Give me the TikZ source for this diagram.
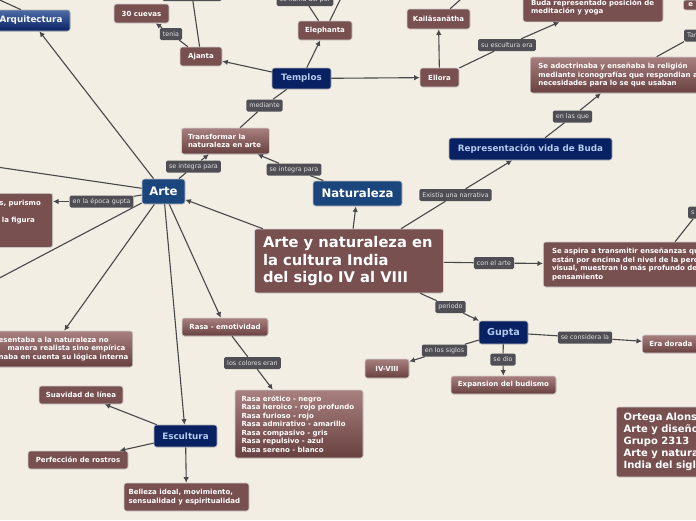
\documentclass[tikz,border=0pt]{standalone}
\usepackage{fontspec}
\setmainfont{DejaVu Sans}
\usetikzlibrary{arrows.meta}
\definecolor{fondo}{RGB}{243,238,227}
\definecolor{cafe}{RGB}{120,80,80}
\definecolor{cafeclaro}{RGB}{168,128,128}
\definecolor{cafeoscuro}{RGB}{104,64,64}
\definecolor{marino}{RGB}{8,33,98}
\definecolor{azul}{RGB}{27,70,125}
\definecolor{azulclaro}{RGB}{78,108,168}
\definecolor{celeste}{RGB}{178,202,236}
\definecolor{etiqueta}{RGB}{78,78,84}
\definecolor{linea}{RGB}{72,72,74}
\tikzset{
  caja/.style={fill=cafe, draw=white!82!black, line width=0.6pt, rounded corners=2.5pt, text=white,
    font=\fontsize{7}{8.5}\selectfont\bfseries, inner xsep=5pt, inner ysep=3pt},
  cajagrad/.style={caja, top color=cafeclaro, bottom color=cafeoscuro},
  tema/.style={fill=marino, draw=white!70!black, line width=0.6pt, rounded corners=2.5pt, text=celeste,
    font=\fontsize{8.8}{10}\selectfont\bfseries},
  eje/.style={fill=azul, draw=white!75!black, line width=0.8pt, rounded corners=2.5pt, text=white,
    font=\fontsize{11.7}{13}\selectfont\bfseries},
  etq/.style={fill=etiqueta, rounded corners=1.5pt, text=white!88!black, font=\fontsize{6.4}{7.5}\selectfont,
    inner xsep=3pt, inner ysep=0pt, minimum height=12pt},
  con/.style={draw=linea, line width=1.1pt},
  flecha/.style={con, -{Latex[length=5.5pt,width=5.5pt]}}
}
\begin{document}
\begin{tikzpicture}[x=1pt,y=-1pt]
\fill[fondo] (0,0) rectangle (696,520);
\useasboundingbox (0,0) rectangle (696,520);
\clip (0,0) rectangle (696,520);

\node[tema, top color=azulclaro, bottom color=marino, text=white!88!celeste, minimum width=78pt, minimum height=21pt] (arq) at (31,20.5) {Arquitectura};
\node[caja, minimum width=55pt, minimum height=19pt] (cuevas) at (141.5,13.5) {30 cuevas};
\node[etq] (tenia) at (171,34) {tenia};
\node[caja, minimum width=42pt, minimum height=19pt] (ajanta) at (201,56.5) {Ajanta};
\node[etq, minimum width=59pt] (etqaj) at (192,-5) {};
\node[tema, minimum width=59pt, minimum height=21pt] (templos) at (301.5,78.5) {Templos};
\node[caja, minimum width=54pt, minimum height=19pt] (elephanta) at (325,30.5) {Elephanta};
\node[etq] (llama) at (305,0) {se llama así por};
\node[caja, minimum width=63pt, minimum height=20pt] (kaila) at (438.5,19) {Kailāsanātha};
\node[caja, minimum width=39pt, minimum height=19pt] (ellora) at (439.5,77.5) {Ellora};
\node[etq] (suesc) at (507,45) {su escultura era};
\node[caja, text width=124pt, align=flush left, inner xsep=8pt, minimum height=29pt] (buda) at (593,7.3) {Buda representado posición de\\meditación y yoga};
\node[caja, anchor=west, text width=30pt, align=flush left] (sup) at (683,5) {e};
\node[etq, anchor=west, text width=16pt, align=flush left] (tar) at (684,35.5) {Tar};
\node[cajagrad, anchor=west, text width=170pt, align=flush left, inner xsep=8pt, minimum height=36pt] (adoc) at (530,75) {Se adoctrinaba y enseñaba la religión\\mediante iconografías que respondian a\\necesidades para lo se que usaban};
\node[etq] (enlasque) at (572.5,116.5) {en las que};
\node[tema, minimum width=163pt, minimum height=22pt] (repr) at (530.5,149) {Representación vida de Buda};
\node[etq] (narr) at (455.5,195) {Existía una narrativa};
\node[caja, text width=172pt, align=flush left, inner xsep=8.5pt, minimum height=64pt, font=\fontsize{14.7}{17.7}\selectfont\bfseries] (main) at (349,261) {Arte y naturaleza en\\la cultura India\\del siglo IV al VIII};
\node[eje, minimum width=89pt, minimum height=25pt] (natur) at (357.5,193.5) {Naturaleza};
\node[etq] (integraR) at (294,169.5) {se integra para};
\node[cajagrad, text width=75pt, align=flush left, inner xsep=6.5pt, minimum height=26pt] (transf) at (225.5,141) {Transformar la\\naturaleza en arte};
\node[etq] (integraL) at (193.5,166.5) {se integra para};
\node[etq] (mediante) at (264.5,105.5) {mediante};
\node[eje, minimum width=43pt, minimum height=25pt] (arte) at (163.5,191.5) {Arte};
\node[etq] (epoca) at (101.5,201.5) {en la época gupta};
\node[caja, anchor=north east, text width=50pt, align=flush left, inner xsep=8pt, minimum height=54pt] (gbox) at (53,193) {es, purismo\\~\\e la figura\\~\\~};
\node[cajagrad, anchor=east, text width=131pt, align=flush left, inner xsep=3pt, minimum height=36pt] (repnat) at (133,349) {esentaba a la naturaleza no\\\hspace*{9pt}manera realista sino empírica\\naba en cuenta su lógica interna};
\node[cajagrad, minimum width=86pt, minimum height=18pt] (rasaem) at (225,327) {Rasa - emotividad};
\node[etq] (colores) at (252.5,363) {los colores eran};
\node[cajagrad, text width=115pt, align=flush left, inner xsep=6.5pt, minimum height=68pt] (rasas) at (299,424) {Rasa erótico - negro\\Rasa heroico - rojo profundo\\Rasa furioso - rojo\\Rasa admirativo - amarillo\\Rasa compasivo - gris\\Rasa repulsivo - azul\\Rasa sereno - blanco};
\node[tema, minimum width=63pt, minimum height=22pt] (escultura) at (185.5,436) {Escultura};
\node[caja, minimum width=84pt, minimum height=18pt] (suavidad) at (81,395) {Suavidad de línea};
\node[caja, minimum width=100pt, minimum height=18pt] (rostros) at (78,460) {Perfección de rostros};
\node[caja, text width=116pt, align=flush left, inner xsep=4.5pt, minimum height=28pt] (belleza) at (186.5,497) {Belleza ideal, movimiento,\\sensualidad y espiritualidad};
\node[tema, minimum width=49pt, minimum height=23pt, font=\fontsize{9.6}{11}\selectfont\bfseries] (gupta) at (503.5,332.5) {Gupta};
\node[etq] (periodo) at (450.5,307) {periodo};
\node[etq] (siglos) at (444.5,350.5) {en los siglos};
\node[cajagrad, minimum width=44pt, minimum height=19pt] (iv) at (387,368.5) {IV-VIII};
\node[etq] (dio) at (503,359.5) {se dio};
\node[cajagrad, minimum width=105pt, minimum height=18pt] (budismo) at (503.5,385) {Expansion del budismo};
\node[etq] (considera) at (585,337.5) {se considera la};
\node[cajagrad, anchor=west, text width=70pt, align=flush left, inner xsep=7pt, minimum height=18pt] (dorada) at (642,344) {Era dorada};
\node[caja, anchor=west, text width=210pt, align=flush left, inner xsep=8.7pt, minimum height=45pt] (aspira) at (543,264.5) {Se aspira a transmitir enseñanzas que\\están por encima del nivel de la percepción\\visual, muestran lo más profundo del\\pensamiento};
\node[etq] (conarte) at (494,263) {con el arte};
\node[etq, anchor=west, text width=14pt, align=flush left] (sR) at (688,212.5) {s};
\node[caja, anchor=west, text width=150pt, align=flush left, inner xsep=7.3pt, minimum height=70pt, font=\fontsize{10}{12}\selectfont\bfseries] (ortega) at (616,442) {Ortega Alonso\\Arte y diseño\\Grupo 2313\\Arte y naturaleza\\India del siglo};

\coordinate (fueraA) at (-20,-9);
\coordinate (fueraB) at (345,-10);
\coordinate (fueraC) at (469,-8);
\coordinate (fueraD) at (-10,166);
\coordinate (fueraE) at (-10,283);

\draw[con] (fueraA) -- ([xshift=-10pt]arq.north);
\draw[flecha] (arte) -- (arq);
\draw[flecha] (templos) -- (ajanta);
\draw[con] (ajanta) -- (tenia);
\draw[flecha] (tenia) -- (cuevas);
\draw[con] (etqaj) -- (ajanta);
\draw[flecha] (templos) -- (elephanta);
\draw[con] (llama) -- (elephanta);
\draw[con] (fueraB) -- (elephanta);
\draw[flecha] (templos) -- (ellora);
\draw[flecha] (ellora) -- (kaila);
\draw[con] (kaila) -- (fueraC);
\draw[con] (ellora) -- (suesc);
\draw[flecha] (suesc) -- (buda);
\draw[con] (repr) -- (enlasque);
\draw[flecha] (enlasque) -- (adoc);
\draw[con] (adoc) -- (tar);
\draw[con] (main) -- (narr);
\draw[flecha] (narr) -- (repr);
\draw[flecha] (main) -- (natur);
\draw[con] (natur) -- (integraR);
\draw[flecha] (integraR) -- (transf);
\draw[con] (arte) -- (integraL);
\draw[flecha] (integraL) -- (transf);
\draw[con] (templos) -- (mediante) -- (transf);
\draw[flecha] (main) -- (arte);
\draw[con] (fueraD) -- (arte);
\draw[con] (arte) -- (epoca);
\draw[flecha] (epoca) -- (gbox.east |- epoca);
\draw[con] (arte) -- (fueraE);
\draw[flecha] (arte) -- (repnat.north);
\draw[flecha] (arte) -- (rasaem);
\draw[flecha] (arte) -- (escultura);
\draw[con] (rasaem) -- (colores);
\draw[flecha] (colores) -- (rasas);
\draw[flecha] (escultura) -- (suavidad);
\draw[flecha] (escultura) -- (rostros);
\draw[flecha] (escultura) -- (belleza);
\draw[con] (main) -- (periodo);
\draw[flecha] (periodo) -- (gupta);
\draw[con] (gupta) -- (siglos);
\draw[flecha] (siglos) -- (iv);
\draw[con] (gupta) -- (dio);
\draw[flecha] (dio) -- (budismo);
\draw[con] (gupta) -- (considera);
\draw[flecha] (considera) -- (dorada);
\draw[con] (main) -- (conarte);
\draw[flecha] (conarte) -- (aspira);
\draw[con] (aspira) -- (sR);
\end{tikzpicture}
\end{document}
